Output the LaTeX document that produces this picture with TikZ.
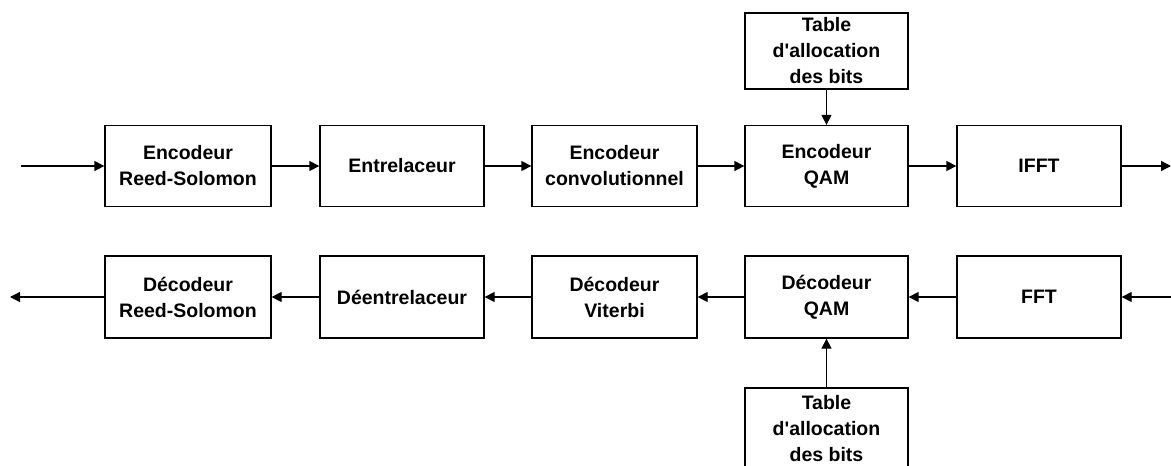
\documentclass[tikz,border=0pt]{standalone}
\usepackage{fontspec}
\setmainfont{Liberation Sans}
\usetikzlibrary{arrows.meta}
\tikzset{
  blk/.style={draw=black, line width=1.3pt, rectangle, align=center,
    font=\fontsize{19.5}{26}\selectfont\bfseries, inner sep=0pt},
  flow/.style={draw=black, line width=1.3pt, -{Triangle[length=10pt,width=10pt]}}
}
\newcommand{\tabletext}{Table\\d\textquotesingle allocation\\des bits}
\begin{document}
\begin{tikzpicture}[x=1pt,y=-1pt]
  \useasboundingbox (0,0) rectangle (1171,466);
  % transmit chain
  \node[blk, minimum width=166pt, minimum height=81pt] (rsenc) at (188,166) {Encodeur\\Reed-Solomon};
  \node[blk, minimum width=164pt, minimum height=81pt] (intl) at (402,166) {Entrelaceur};
  \node[blk, minimum width=165pt, minimum height=81pt] (conv) at (614.5,166) {Encodeur\\convolutionnel};
  \node[blk, minimum width=163pt, minimum height=81pt] (qamenc) at (826.5,166) {Encodeur\\QAM};
  \node[blk, minimum width=164pt, minimum height=81pt] (ifft) at (1039,166) {IFFT};
  \node[blk, minimum width=163pt, minimum height=76pt] (tabtx) at (826.5,51) {\tabletext};
  \coordinate (txin) at (21,166);
  \coordinate (txout) at (1171,166);
  % receive chain
  \node[blk, minimum width=166pt, minimum height=82pt] (rsdec) at (188,297) {Décodeur\\Reed-Solomon};
  \node[blk, minimum width=164pt, minimum height=82pt] (dintl) at (402,297) {Déentrelaceur};
  \node[blk, minimum width=165pt, minimum height=82pt] (vit) at (614.5,297) {Décodeur\\Viterbi};
  \node[blk, minimum width=163pt, minimum height=82pt] (qamdec) at (826.5,297) {Décodeur\\QAM};
  \node[blk, minimum width=164pt, minimum height=82pt] (fft) at (1039,297) {FFT};
  \node[blk, minimum width=163pt, minimum height=82pt] (tabrx) at (826.5,429) {\tabletext};
  \coordinate (rxin) at (1171,297);
  \coordinate (rxout) at (10,297);
  % connectors
  \draw[flow] (txin) -- (rsenc);
  \draw[flow] (rsenc) -- (intl);
  \draw[flow] (intl) -- (conv);
  \draw[flow] (conv) -- (qamenc);
  \draw[flow] (qamenc) -- (ifft);
  \draw[flow] (ifft) -- (txout);
  \draw[flow] (tabtx) -- (qamenc);
  \draw[flow] (rxin) -- (fft);
  \draw[flow] (fft) -- (qamdec);
  \draw[flow] (qamdec) -- (vit);
  \draw[flow] (vit) -- (dintl);
  \draw[flow] (dintl) -- (rsdec);
  \draw[flow] (rsdec) -- (rxout);
  \draw[flow] (tabrx) -- (qamdec);
\end{tikzpicture}
\end{document}
